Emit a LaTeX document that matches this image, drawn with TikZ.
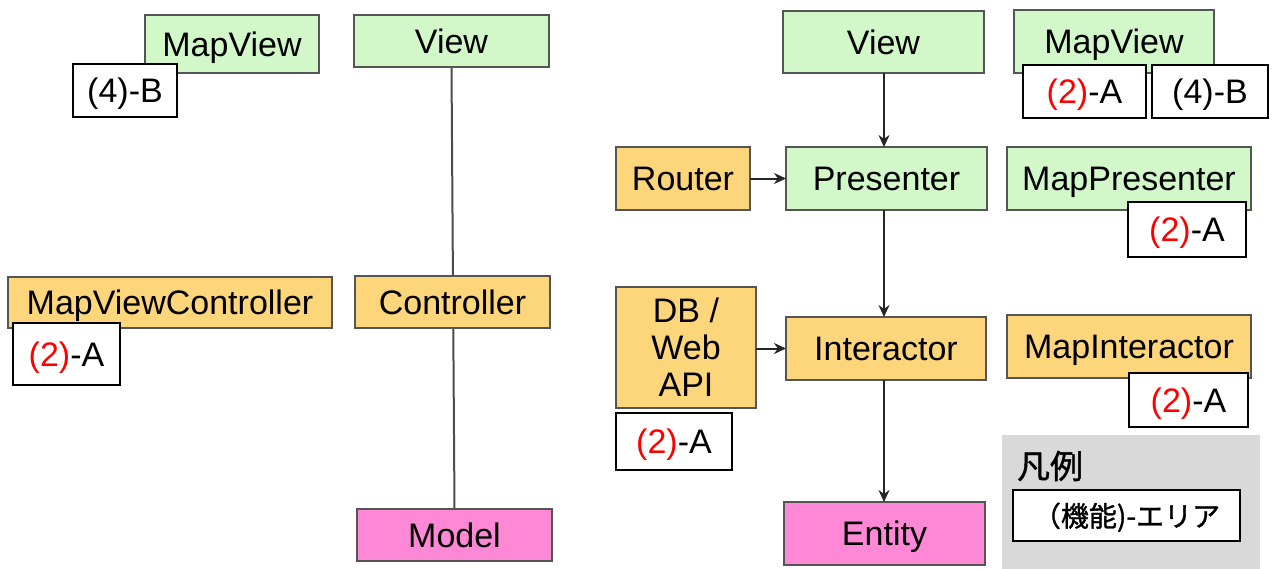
\documentclass[tikz,border=0pt]{standalone}
\usepackage{fontspec}
\setmainfont{Liberation Sans}
\newfontfamily\cjk[FakeBold=1.2]{Noto Sans CJK JP}
\usetikzlibrary{arrows.meta,backgrounds}
\definecolor{gfill}{HTML}{D2F8CA}
\definecolor{ofill}{HTML}{FDD57A}
\definecolor{pfill}{HTML}{FE88D6}
\definecolor{bord}{HTML}{555555}
\definecolor{lgray}{HTML}{D9D9D9}
\begin{document}
\begin{tikzpicture}[x=1pt,y=-1pt,
  every node/.style={font=\fontsize{34}{37}\selectfont, inner sep=0pt, outer sep=0pt},
  one/.style={text height=24.5pt, text depth=0pt},
  base/.style={draw=bord, line width=1.6pt, rectangle},
  gbox/.style={base, one, fill=gfill},
  obox/.style={base, one, fill=ofill},
  pbox/.style={base, one, fill=pfill},
  tag/.style={draw=black, one, line width=2.8pt, fill=white},
  arr/.style={draw=black!85, line width=2pt, -{Stealth[length=12pt,width=11pt]}},
  ln/.style={draw=black!70, line width=2pt}]
\useasboundingbox (0,0) rectangle (1273,568);

% left side
\node[gbox, minimum width=174pt, minimum height=58pt] (lmapview) at (232,44) {MapView};
\node[tag, minimum width=104pt, minimum height=53pt] (ltagb) at (125,90.5) {(4)-B};
\node[gbox, minimum width=195pt, minimum height=52pt] (lview) at (451.5,41) {View};
\node[obox, minimum width=195pt, minimum height=52pt] (lctrl) at (452.5,302) {Controller};
\node[pbox, minimum width=195pt, minimum height=52pt] (lmodel) at (454.5,535) {Model};
\node[obox, minimum width=324pt, minimum height=51pt] (mvc) at (170,302.5) {MapViewController};
\node[tag, minimum width=107pt, minimum height=62pt] (mvctag) at (66.5,354) {\textcolor{red}{(2)}-A};

\begin{pgfonlayer}{background}
\draw[ln] (lview.south) -- (lmodel.north);
\end{pgfonlayer}

% right side
\node[gbox, minimum width=201pt, minimum height=62pt] (rview) at (883.5,42) {View};
\node[gbox, minimum width=201pt, minimum height=63pt] (presenter) at (886.5,178.5) {Presenter};
\node[obox, minimum width=134pt, minimum height=63pt] (router) at (683,178.5) {Router};
\node[obox, minimum width=200pt, minimum height=63pt] (interactor) at (886,348.5) {Interactor};
\node[pbox, minimum width=201pt, minimum height=63pt] (entity) at (884.5,533.5) {Entity};
\node[base, fill=ofill, minimum width=140pt, minimum height=121pt, align=center] (dbapi) at (686,347.5) {DB /\\Web\\API};
\node[tag, minimum width=116pt, minimum height=57pt] (dbtag) at (674,441.5) {\textcolor{red}{(2)}-A};

\draw[arr] (rview.south -| 884,0) -- (presenter.north -| 884,0);
\draw[arr] (presenter.south -| 884,0) -- (interactor.north -| 884,0);
\draw[arr] (interactor.south -| 884,0) -- (entity.north -| 884,0);
\draw[arr] (router.east) -- (presenter.west);
\draw[arr] (dbapi.east |- interactor.west) -- (interactor.west);

\node[gbox, minimum width=200pt, minimum height=63pt] (rmapview) at (1114,41.5) {MapView};
\node[tag, minimum width=123pt, minimum height=53pt] (rtaga) at (1084.5,91.5) {\textcolor{red}{(2)}-A};
\node[tag, minimum width=116pt, minimum height=53pt] (rtagb) at (1210,91.5) {(4)-B};
\node[gbox, minimum width=244pt, minimum height=63pt] (mappres) at (1129,178.5) {MapPresenter};
\node[tag, minimum width=118pt, minimum height=55pt] (mptag) at (1187,229.5) {\textcolor{red}{(2)}-A};
\node[obox, minimum width=244pt, minimum height=63pt] (mapint) at (1129,346.5) {MapInteractor};
\node[tag, minimum width=119pt, minimum height=54pt] (mitag) at (1188.5,400) {\textcolor{red}{(2)}-A};

% legend
\node[fill=lgray, minimum width=258pt, minimum height=136pt] (legend) at (1131,503) {};
\node[font=\cjk\fontsize{33}{36}\selectfont] (legtitle) at (1050,466) {凡例};
\node[tag, text height=22pt, minimum width=227pt, minimum height=51pt, font=\cjk\fontsize{28}{30}\selectfont] (legbox) at (1126.5,515.5) {（機能)-エリア};
\end{tikzpicture}
\end{document}
